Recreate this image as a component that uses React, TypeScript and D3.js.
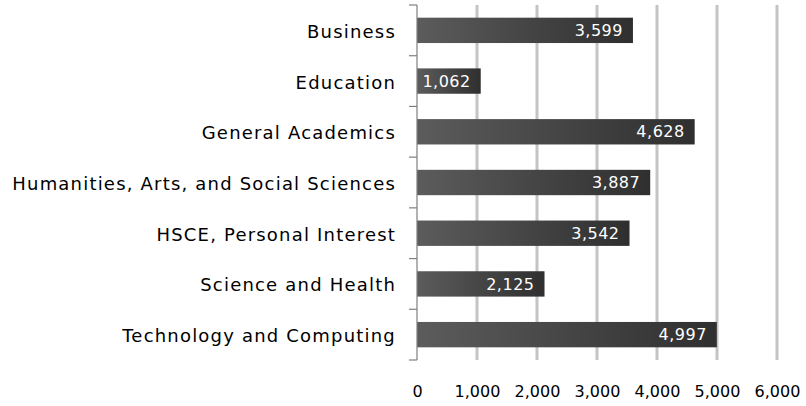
import React, { useEffect, useRef } from "react";
import * as d3 from "d3";

const categories = [
  "Business",
  "Education",
  "General Academics",
  "Humanities, Arts, and Social Sciences",
  "HSCE, Personal Interest",
  "Science and Health",
  "Technology and Computing",
];
const values = [3599, 1062, 4628, 3887, 3542, 2125, 4997];
const xTicks = [0, 1000, 2000, 3000, 4000, 5000, 6000];

const FONT = "'DejaVu Sans', sans-serif";

export default function App() {
  const ref = useRef<SVGSVGElement>(null);

  useEffect(() => {
    const svg = d3.select(ref.current);
    svg.selectAll("*").remove();

    const left = 417;
    const top = 5;
    const right = 777;
    const bottom = 360;

    const x = d3.scaleLinear().domain([0, 6000]).range([left, right]);
    const y = d3.scaleBand().domain(categories).range([top, bottom]).paddingInner(0.5).paddingOuter(0.25);

    const defs = svg.append("defs");
    const grad = defs
      .append("linearGradient")
      .attr("id", "barGrad")
      .attr("x1", "0%")
      .attr("x2", "100%")
      .attr("y1", "0%")
      .attr("y2", "0%");
    grad.append("stop").attr("offset", "0%").attr("stop-color", "#5c5c5c");
    grad.append("stop").attr("offset", "100%").attr("stop-color", "#2f2f2f");

    // grid
    svg
      .append("g")
      .selectAll("line")
      .data(xTicks.slice(1))
      .join("line")
      .attr("x1", (d) => x(d))
      .attr("x2", (d) => x(d))
      .attr("y1", top)
      .attr("y2", bottom)
      .attr("stroke", "#c4c4c4")
      .attr("stroke-width", 3);

    // bars
    svg
      .append("g")
      .selectAll("rect")
      .data(values)
      .join("rect")
      .attr("x", x(0))
      .attr("y", (d, i) => y(categories[i])!)
      .attr("width", (d) => x(d) - x(0))
      .attr("height", y.bandwidth())
      .attr("fill", "url(#barGrad)");

    // value labels
    svg
      .append("g")
      .selectAll("text")
      .data(values)
      .join("text")
      .attr("x", (d) => x(d) - 10)
      .attr("y", (d, i) => y(categories[i])! + y.bandwidth() / 2)
      .attr("dy", "0.35em")
      .attr("text-anchor", "end")
      .attr("fill", "#fff")
      .style("font-family", FONT)
      .style("font-size", "16px")
      .style("letter-spacing", "0.5px")
      .text((d) => d3.format(",")(d));

    // y axis
    const yAxis = d3
      .axisLeft(y)
      .tickSize(0)
      .tickPadding(21)
      .tickFormat((d) => d as string);
    const yg = svg.append("g").attr("transform", `translate(${left},0)`).call(yAxis);
    yg.select(".domain").remove();
    yg.selectAll("text")
      .attr("fill", "#000")
      .attr("dy", "0.42em")
      .style("font-family", FONT)
      .style("font-size", "18px")
      .style("letter-spacing", "1.2px");

    // y axis line and ticks between bands
    const boundaries = d3.range(categories.length + 1).map((i) => top + i * ((bottom - top) / categories.length));
    svg
      .append("line")
      .attr("x1", left)
      .attr("x2", left)
      .attr("y1", top)
      .attr("y2", bottom)
      .attr("stroke", "#7f7f7f")
      .attr("stroke-width", 1.2);
    svg
      .append("g")
      .selectAll("line")
      .data(boundaries)
      .join("line")
      .attr("x1", left - 8)
      .attr("x2", left)
      .attr("y1", (d) => d)
      .attr("y2", (d) => d)
      .attr("stroke", "#7f7f7f")
      .attr("stroke-width", 1.2);

    // x axis labels
    const xAxis = d3
      .axisBottom(x)
      .tickValues(xTicks)
      .tickSize(0)
      .tickPadding(26)
      .tickFormat((d) => d3.format(",")(d as number));
    const xg = svg.append("g").attr("transform", `translate(0,${bottom})`).call(xAxis);
    xg.select(".domain").remove();
    xg.selectAll("text")
      .attr("fill", "#000")
      .style("font-family", FONT)
      .style("font-size", "16px");
  }, []);

  return (
    <svg
      ref={ref}
      width={806}
      height={406}
      style={{ position: "absolute", left: 0, top: 0, background: "#fff" }}
    />
  );
}
